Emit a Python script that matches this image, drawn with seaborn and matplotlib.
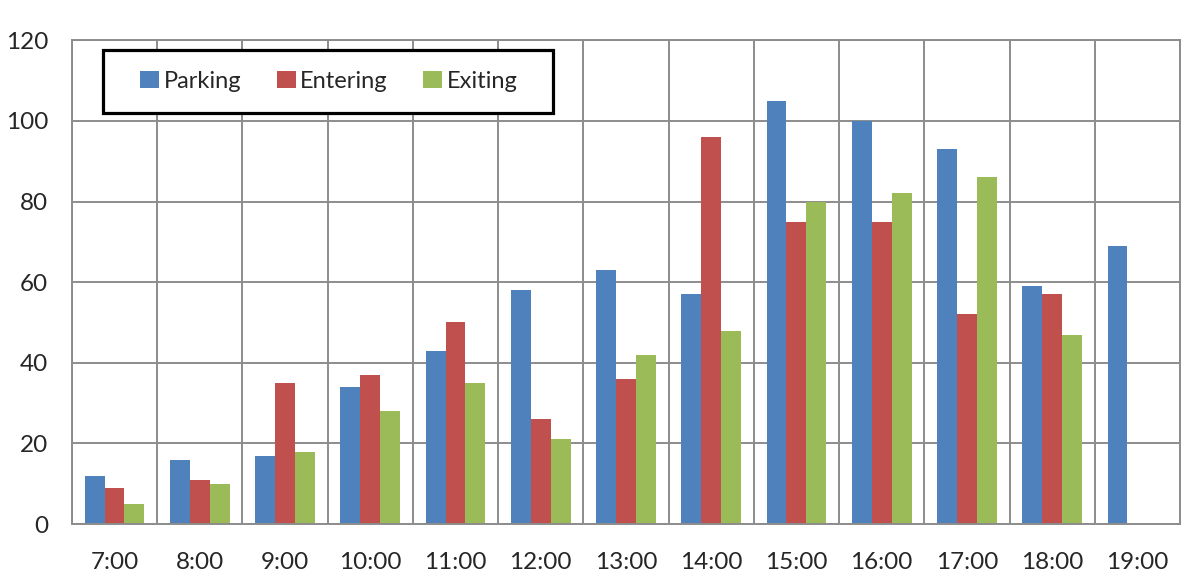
import numpy as np
import pandas as pd
import matplotlib
matplotlib.use("Agg")
import matplotlib.pyplot as plt
import seaborn as sns
from matplotlib.patches import Rectangle
from matplotlib.ticker import FixedLocator, MultipleLocator

hours = ["7:00", "8:00", "9:00", "10:00", "11:00", "12:00", "13:00",
         "14:00", "15:00", "16:00", "17:00", "18:00", "19:00"]
parking = [12, 16, 17, 34, 43, 58, 63, 57, 105, 100, 93, 59, 69]
entering = [9, 11, 35, 37, 50, 26, 36, 96, 75, 75, 52, 57, np.nan]
exiting = [5, 10, 18, 28, 35, 21, 42, 48, 80, 82, 86, 47, np.nan]
series_names = ["Parking", "Entering", "Exiting"]
series_colors = ["#4F81BD", "#C0504D", "#9BBB59"]

df = pd.DataFrame({
    "hour": hours * 3,
    "series": [s for s in series_names for _ in hours],
    "value": parking + entering + exiting,
})

sns.set_theme(style="white")
plt.rcParams["font.family"] = ["Lato", "DejaVu Sans"]

fig = plt.figure(figsize=(11.98, 5.83), dpi=100)
ax = fig.add_axes([0.060, 0.101, 0.925, 0.830])

sns.barplot(data=df, x="hour", y="value", hue="series", order=hours,
            hue_order=series_names, palette=series_colors, width=0.7,
            saturation=1, errorbar=None, gap=0, linewidth=0, ax=ax)

grid_c = "#8c8c8c"
text_c = "#262626"
ax.set_ylim(0, 120)
ax.set_xlim(-0.5, len(hours) - 0.5)
ax.yaxis.set_major_locator(MultipleLocator(20))
ax.xaxis.set_minor_locator(FixedLocator(np.arange(-0.5, len(hours), 1.0)))
ax.grid(axis="y", which="major", color=grid_c, linewidth=1.4)
ax.grid(axis="x", which="minor", color=grid_c, linewidth=1.4)
ax.set_axisbelow(True)
for sp in ax.spines.values():
    sp.set_color(grid_c)
    sp.set_linewidth(1.4)
ax.tick_params(axis="x", which="major", length=0, pad=20, labelsize=17.5,
               labelcolor=text_c)
ax.tick_params(axis="x", which="minor", length=8, width=1.4, color=grid_c,
               direction="out")
ax.tick_params(axis="y", which="major", length=8, width=1.4, color=grid_c,
               direction="out", pad=9, labelsize=17.5, labelcolor=text_c)
ax.set_xlabel("")
ax.set_ylabel("")

# boxed legend in the upper-left corner of the plot area
box = Rectangle((0.028, 0.849), 0.406, 0.130, transform=ax.transAxes,
                facecolor="white", edgecolor="black", linewidth=2.3,
                zorder=6, clip_on=False)
ax.add_patch(box)
handles, labels = ax.get_legend_handles_labels()
leg = ax.legend(handles, labels, ncol=3, loc="center",
                bbox_to_anchor=(0.232, 0.915), frameon=False, fontsize=17,
                handlelength=0.8, handleheight=0.7, handletextpad=0.2,
                borderpad=0, borderaxespad=0, columnspacing=1.5)
leg.set_zorder(7)
for t in leg.get_texts():
    t.set_color(text_c)

fig.savefig("out.png", dpi=100, facecolor="white")
